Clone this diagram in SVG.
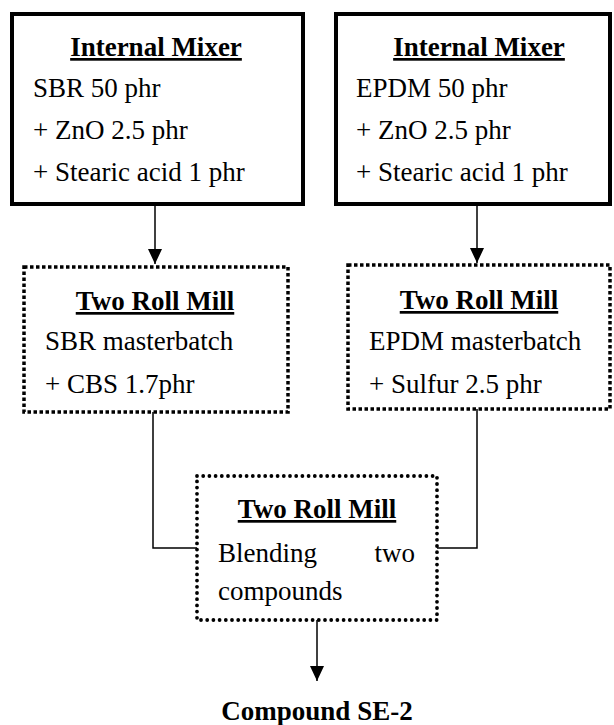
<svg xmlns="http://www.w3.org/2000/svg" width="614" height="725" viewBox="0 0 614 725" font-family="Liberation Serif, serif">
  <style>
    text { font-family: 'Liberation Serif', Tinos, 'Times New Roman', Times, serif; font-size: 27px; fill: #000; }
    .title { font-weight: bold; text-decoration: underline; text-anchor: middle; }
    .solid { fill: #fff; stroke: #000; stroke-width: 4; }
    .dash { fill: #fff; stroke: #000; stroke-width: 3.5; stroke-dasharray: 3.5 2.5; }
    .dots { fill: #fff; stroke: #000; stroke-width: 3.8; stroke-dasharray: 0 6.2; stroke-linecap: round; }
    .wire { fill: none; stroke: #000; stroke-width: 1.5; }
  </style>
  <defs>
    <marker id="arrow" markerUnits="userSpaceOnUse" markerWidth="16" markerHeight="16" viewBox="0 0 16 16" refX="15" refY="8" orient="auto">
      <path d="M0,1 L15,8 L0,15 Z" fill="#000"/>
    </marker>
  </defs>

  <g id="connectors">
    <line class="wire" x1="155" y1="206" x2="155" y2="264" marker-end="url(#arrow)"/>
    <line class="wire" x1="477" y1="206" x2="477" y2="263" marker-end="url(#arrow)"/>
    <polyline class="wire" points="153,412 153,548 197,548"/>
    <polyline class="wire" points="477,409 477,548 437,548"/>
    <line class="wire" x1="317" y1="620" x2="317" y2="681" marker-end="url(#arrow)"/>
  </g>

  <g id="mixer-sbr">
    <rect class="solid" x="12" y="14" width="291" height="190"/>
    <text class="title" x="156" y="56">Internal Mixer</text>
    <text x="33" y="97">SBR 50 phr</text>
    <text x="33" y="139">+ ZnO 2.5 phr</text>
    <text x="33" y="181">+ Stearic acid 1 phr</text>
  </g>

  <g id="mixer-epdm">
    <rect class="solid" x="336" y="14" width="274" height="190"/>
    <text class="title" x="479" y="56">Internal Mixer</text>
    <text x="356" y="97">EPDM 50 phr</text>
    <text x="356" y="139">+ ZnO 2.5 phr</text>
    <text x="356" y="181">+ Stearic acid 1 phr</text>
  </g>

  <g id="mill-sbr">
    <rect class="dash" x="24" y="267" width="264" height="145"/>
    <text class="title" x="155" y="310">Two Roll Mill</text>
    <text x="45" y="350">SBR masterbatch</text>
    <text x="45" y="393">+ CBS 1.7phr</text>
  </g>

  <g id="mill-epdm">
    <rect class="dash" x="348" y="265" width="262" height="144"/>
    <text class="title" x="479" y="309">Two Roll Mill</text>
    <text x="369" y="350">EPDM masterbatch</text>
    <text x="369" y="393">+ Sulfur 2.5 phr</text>
  </g>

  <g id="mill-blend">
    <rect class="dots" x="197" y="476" width="240" height="144"/>
    <text class="title" x="317" y="518">Two Roll Mill</text>
    <text x="218" y="562">Blending</text>
    <text x="415" y="562" text-anchor="end">two</text>
    <text x="218" y="600">compounds</text>
  </g>

  <g id="output">
    <text x="317" y="720" font-weight="bold" text-anchor="middle">Compound SE-2</text>
  </g>
</svg>
